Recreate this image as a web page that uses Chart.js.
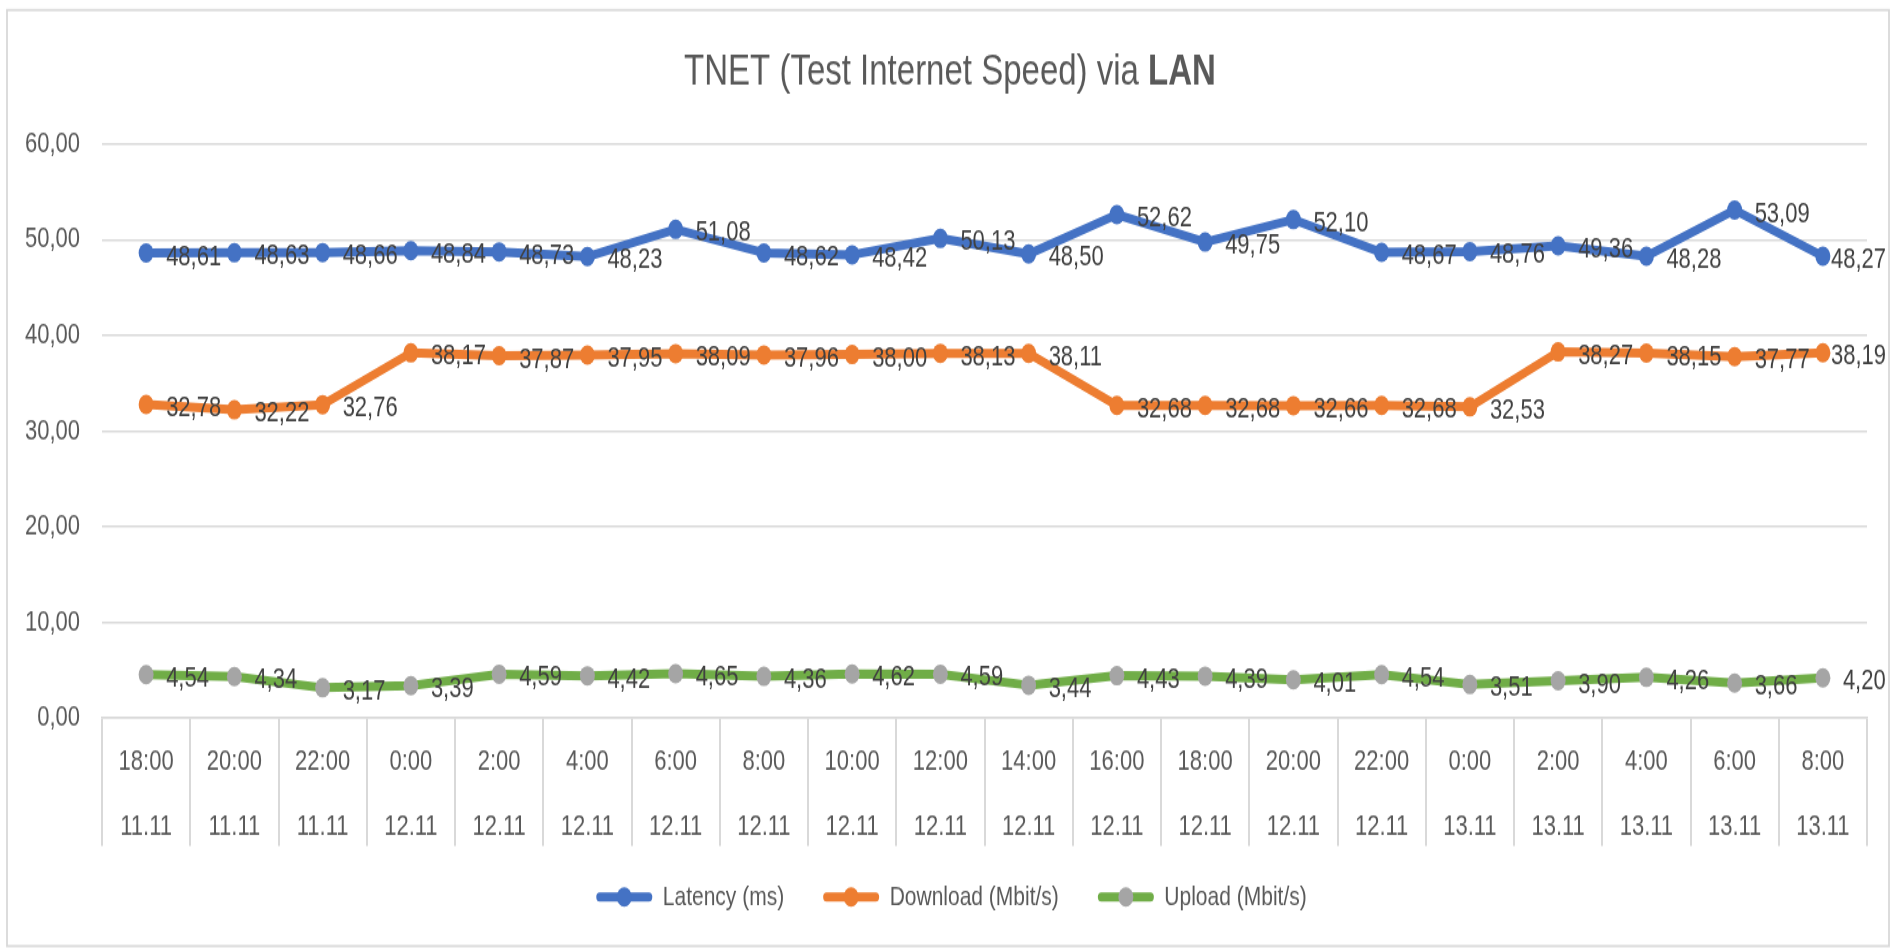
<!DOCTYPE html>
<html><head><meta charset="utf-8">
<script src="https://cdn.jsdelivr.net/npm/chart.js@4/dist/chart.umd.min.js"></script>
<style>
html,body{margin:0;padding:0;background:#fff;overflow:hidden;width:1895px;height:948px}
#c{display:block;width:1895px;height:948px}
</style>
</head><body>
<canvas id="c" width="1895" height="729" style="width:1895px;height:948px"></canvas>
<script>
const times = ['18:00','20:00','22:00','0:00','2:00','4:00','6:00','8:00','10:00','12:00','14:00','16:00','18:00','20:00','22:00','0:00','2:00','4:00','6:00','8:00'];
const dates = ['11.11','11.11','11.11','12.11','12.11','12.11','12.11','12.11','12.11','12.11','12.11','12.11','12.11','12.11','12.11','13.11','13.11','13.11','13.11','13.11'];
const latency = [48.61,48.63,48.66,48.84,48.73,48.23,51.08,48.62,48.42,50.13,48.50,52.62,49.75,52.10,48.67,48.76,49.36,48.28,53.09,48.27];
const download = [32.78,32.22,32.76,38.17,37.87,37.95,38.09,37.96,38.00,38.13,38.11,32.68,32.68,32.66,32.68,32.53,38.27,38.15,37.77,38.19];
const upload = [4.54,4.34,3.17,3.39,4.59,4.42,4.65,4.36,4.62,4.59,3.44,4.43,4.39,4.01,4.54,3.51,3.90,4.26,3.66,4.20];
const seriesNames = ['Latency (ms)','Download (Mbit/s)','Upload (Mbit/s)'];
const titleMain = 'TNET (Test Internet Speed) via ';
const titleBold = 'LAN';

const FONT = "'Liberation Sans', Arial, sans-serif";
Chart.defaults.font.family = FONT;
Chart.defaults.color = '#595959';

const fmt = v => Number(v).toFixed(2).replace('.', ',');
const categories = times.map((t, i) => [t, dates[i]]);

const lineColors = ['#4472C4', '#ED7D31', '#70AD47'];
const pointColors = ['#4472C4', '#ED7D31', '#A5A5A5'];

function ds(label, data, i) {
  return {
    label, data,
    borderColor: lineColors[i], backgroundColor: lineColors[i],
    borderWidth: 7, tension: 0, borderCapStyle: 'round', borderJoinStyle: 'round',
    pointRadius: 7.5, pointHoverRadius: 7.5,
    pointBackgroundColor: pointColors[i], pointBorderColor: pointColors[i], pointBorderWidth: 0
  };
}

const framePlugin = {
  id: 'frame',
  afterLayout(chart) {
    const lg = chart.legend;
    if (lg) {
      const h = lg.height;
      lg.left = 36;
      lg.top = 640.3;
      lg.bottom = lg.top + h;
    }
  },
  beforeDraw(chart) {
    const ctx = chart.ctx;
    ctx.save();
    ctx.fillStyle = '#ffffff';
    ctx.fillRect(0, 0, chart.width, chart.height);
    ctx.strokeStyle = '#d9d9d9';
    ctx.lineWidth = 1.8;
    ctx.strokeRect(7, 7.7, 1882, 719.8);
    // title
    ctx.fillStyle = '#595959';
    ctx.textBaseline = 'alphabetic';
    ctx.textAlign = 'left';
    ctx.font = '33px ' + FONT;
    const w1 = ctx.measureText(titleMain).width;
    ctx.font = 'bold 33px ' + FONT;
    const w2 = ctx.measureText(titleBold).width;
    const x0 = 950 - (w1 + w2) / 2;
    ctx.font = '33px ' + FONT;
    ctx.fillText(titleMain, x0, 65.4);
    ctx.font = 'bold 33px ' + FONT;
    ctx.fillText(titleBold, x0 + w1, 65.4);
    ctx.restore();
  }
};

const labelPlugin = {
  id: 'valueLabels',
  afterDraw(chart) {
    const ctx = chart.ctx;
    ctx.save();
    ctx.font = '22px ' + FONT;
    ctx.fillStyle = '#404040';
    ctx.textAlign = 'left';
    ctx.textBaseline = 'middle';
    chart.data.datasets.forEach((d, di) => {
      const meta = chart.getDatasetMeta(di);
      meta.data.forEach((el, j) => {
        const txt = fmt(d.data[j]);
        const w = ctx.measureText(txt).width;
        const x = Math.min(el.x + 20, 1886 - w);
        ctx.fillText(txt, x, el.y + 3);
      });
    });
    // legend markers
    const lg = chart.legend;
    if (lg && lg.legendHitBoxes) {
      lg.legendHitBoxes.forEach((hb, i) => {
        ctx.beginPath();
        ctx.fillStyle = pointColors[i];
        ctx.arc(hb.left + 28, hb.top + hb.height / 2, 7.5, 0, Math.PI * 2);
        ctx.fill();
      });
    }
    ctx.restore();
  }
};

new Chart(document.getElementById('c'), {
  type: 'line',
  data: {
    labels: categories,
    datasets: [ds(seriesNames[0], latency, 0), ds(seriesNames[1], download, 1), ds(seriesNames[2], upload, 2)]
  },
  options: {
    responsive: false,
    animation: false,
    devicePixelRatio: 1,
    layout: { padding: { top: 110.7, right: 28, bottom: 6.8, left: 0 } },
    plugins: {
      title: { display: false },
      tooltip: { enabled: false },
      legend: {
        position: 'bottom',
        labels: {
          font: { size: 21 },
          color: '#595959',
          boxWidth: 56, boxHeight: 7, padding: 39,
          useBorderRadius: true, borderRadius: 3.5,
          generateLabels(chart) {
            return chart.data.datasets.map((d, i) => ({
              text: d.label, fillStyle: lineColors[i], strokeStyle: lineColors[i],
              lineWidth: 0, hidden: false, datasetIndex: i, borderRadius: 3.5, fontColor: '#595959'
            }));
          }
        }
      }
    },
    scales: {
      x: {
        type: 'category',
        offset: true,
        grid: { display: true, drawOnChartArea: false, drawTicks: true, tickLength: 98.4, offset: true, color: '#d9d9d9', lineWidth: 2 },
        border: { display: true, color: '#d9d9d9', width: 1.5 },
        ticks: { autoSkip: false, maxRotation: 0, minRotation: 0, padding: -89.6, color: '#595959', font: { size: 22, lineHeight: 50 / 22 } },
        afterFit(scale) { scale.height = 100; }
      },
      y: {
        min: 0, max: 60,
        grid: { color: '#d9d9d9', lineWidth: 1.5, drawTicks: false },
        border: { display: false },
        ticks: { stepSize: 10, padding: 22, color: '#595959', font: { size: 22 }, callback: v => fmt(v) },
        afterFit(scale) { scale.width = 102; }
      }
    }
  },
  plugins: [framePlugin, labelPlugin]
});
</script>
</body></html>
